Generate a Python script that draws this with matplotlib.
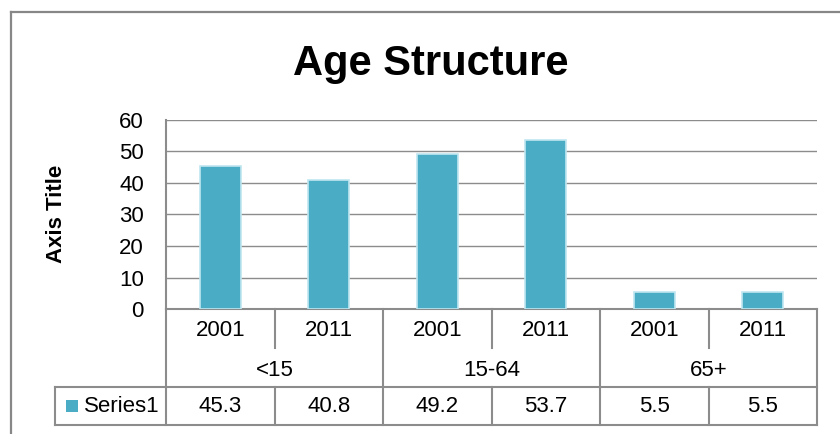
import matplotlib
matplotlib.use("Agg")
import matplotlib.pyplot as plt
from matplotlib.lines import Line2D
from matplotlib.patches import Rectangle
from matplotlib.transforms import blended_transform_factory

plt.rcParams['font.family'] = ['Liberation Sans', 'DejaVu Sans']

# ---- data ----
groups = ['<15', '15-64', '65+']
years = ['2001', '2011']
values = [45.3, 40.8, 49.2, 53.7, 5.5, 5.5]
series_name = 'Series1'
title = 'Age Structure'
ylabel = 'Axis Title'
yticks = [0, 10, 20, 30, 40, 50, 60]

W, H = 840, 434
fig = plt.figure(figsize=(W / 100, H / 100), dpi=100)

# pixel layout helpers
L, R, T, B = 166, 817, 120, 309
ax = fig.add_axes([L / W, 1 - B / H, (R - L) / W, (B - T) / H])

def fy(ypix):
    return (B - ypix) / (B - T)

def fx(xpix):
    return (xpix - L) / (R - L)

bar_color = '#4BACC6'
line_color = '#8c8c8c'

n = len(values)
xs = list(range(n))
ax.bar(xs, values, width=0.38, color=bar_color, edgecolor='#bfe6f0', linewidth=1.2, zorder=3)

ax.set_xlim(-0.5, n - 0.5)
ax.set_ylim(0, 60)
ax.set_yticks(yticks)
ax.set_yticklabels([str(v) for v in yticks], fontsize=16)
ax.tick_params(axis='y', length=0, pad=16)
ax.set_xticks([])
ax.grid(axis='y', color=line_color, linewidth=1.0, zorder=0)
for s in ['right', 'top']:
    ax.spines[s].set_visible(False)
for s in ['left', 'bottom']:
    ax.spines[s].set_color(line_color)
    ax.spines[s].set_linewidth(1.5)

# ---- data table below the axis ----
tb = blended_transform_factory(ax.transData, ax.transAxes)
ta = ax.transAxes
lw = 1.5
def vline(x, y0, y1, trans=tb):
    ax.add_line(Line2D([x, x], [fy(y0), fy(y1)], transform=trans, color=line_color,
                       lw=lw, clip_on=False))

def hline(x0, x1, y, trans=ta):
    ax.add_line(Line2D([x0, x1], [fy(y), fy(y)], transform=trans, color=line_color,
                       lw=lw, clip_on=False))

row_top = 387
row_bot = 425
tleft = fx(55)
for k in range(n + 1):
    xb = k - 0.5
    if k % 2 == 0:
        vline(xb, B, row_bot)
    else:
        vline(xb, B, 348)
        vline(xb, row_top, row_bot)
hline(tleft, 1, row_top)
hline(tleft, 1, row_bot)
vline(tleft, row_top, row_bot, trans=ta)

for i in range(n):
    ax.text(i, fy(330), years[i % 2], transform=tb, ha='center', va='center',
            fontsize=16, clip_on=False)
    ax.text(i, fy(407), f'{values[i]:.1f}', transform=tb, ha='center', va='center',
            fontsize=16, clip_on=False)
for g, name in enumerate(groups):
    ax.text(2 * g + 0.5, fy(370), name, transform=tb, ha='center', va='center',
            fontsize=16, clip_on=False)

# legend key + series name
ax.add_patch(Rectangle((fx(66), fy(412)), fx(78) - fx(66), fy(400) - fy(412), transform=ta,
                       facecolor=bar_color, edgecolor='none', clip_on=False))
ax.text(fx(84), fy(407), series_name, transform=ta, ha='left', va='center',
        fontsize=16, clip_on=False)

# ---- title and axis title ----
fig.text(431 / W, 1 - 75 / H, title, ha='center', va='baseline', fontsize=30,
         fontweight='bold')
fig.text(57 / W, 1 - 214 / H, ylabel, ha='center', va='center', rotation=90,
         fontsize=16, fontweight='bold')

# ---- outer chart border (top and left visible) ----
bc = '#878787'
fig.add_artist(Line2D([11 / W, 1.0], [1 - 12 / H, 1 - 12 / H], transform=fig.transFigure,
                      color=bc, lw=1.6))
fig.add_artist(Line2D([11 / W, 11 / W], [0.0, 1 - 12 / H], transform=fig.transFigure,
                      color=bc, lw=1.6))

fig.savefig('out.png', dpi=100, facecolor='white')
